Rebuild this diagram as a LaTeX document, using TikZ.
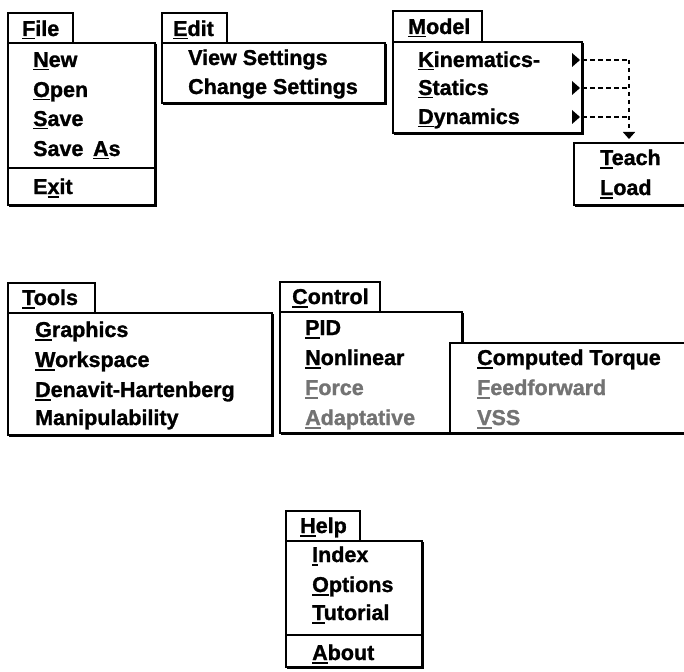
\documentclass[tikz,border=0pt]{standalone}
\usepackage{fontspec}
\setmainfont{Liberation Sans}[BoldFeatures={FakeBold=1.2}]
\usetikzlibrary{arrows.meta}
\newcommand\menufont{\fontsize{21.5pt}{25pt}\selectfont\bfseries}
\newcommand\mnem[1]{\setbox0=\hbox{#1}\rlap{\rule[-3.5pt]{\wd0}{1.7pt}}#1}
\newcommand\menuhead[4]{%
  \fill[white] (#1,#2) rectangle (#3,#4);
  \draw[line width=1.4pt] (#1,#2) rectangle (#3,#4);}
\newcommand\menubox[4]{%
  \fill[white] (#1,#2) rectangle (#3,#4);
  \draw[line width=1.4pt] (#1,#2) rectangle (#3,#4);
  \draw[line width=1.8pt] (#3+1,#2+1) -- (#3+1,#4+1) -- (#1+1,#4+1);}
\begin{document}
\begin{tikzpicture}[x=1pt,y=-1pt,
  itm/.style={anchor=base west,inner sep=0pt,font=\menufont},
  dis/.style={itm,text=black!55},
  conn/.style={line width=1.6pt,dash pattern=on 4.5pt off 3.5pt},
  tri/.style={fill=black}]
\useasboundingbox (0,0) rectangle (684,671);
\clip (0,0) rectangle (684,671);

% ---------- File ----------
\menuhead{8}{13}{73}{43}
\menubox{8}{43}{155}{205}
\draw[line width=1.4pt] (8,168) -- (155,168);
\node[itm] (file) at (22,36) {\mnem{F}ile};
\node[itm] (new) at (33,67) {\mnem{N}ew};
\node[itm] (open) at (33,97) {\mnem{O}pen};
\node[itm] (save) at (33,126) {\mnem{S}ave};
\node[itm] (saveas) at (33,156) {Save\hspace{0.45em}\mnem{A}s};
\node[itm] (exit) at (33,194) {E\mnem{x}it};

% ---------- Edit ----------
\menuhead{162}{13}{227}{43}
\menubox{162}{43}{385}{103}
\node[itm] (edit) at (173,36) {\mnem{E}dit};
\node[itm] (view) at (188,65) {View Settings};
\node[itm] (change) at (188,94) {Change Settings};

% ---------- Model ----------
\menuhead{393}{11}{482}{42}
\menubox{393}{42}{582}{133}
\node[itm] (model) at (408,34) {\mnem{M}odel};
\node[itm] (kin) at (418,67) {\mnem{K}inematics-};
\node[itm] (stat) at (418,95) {\mnem{S}tatics};
\node[itm] (dyn) at (418,124) {\mnem{D}ynamics};
\fill[tri] (572,53) -- (580,60) -- (572,67) -- cycle;
\fill[tri] (572,81) -- (580,88) -- (572,95) -- cycle;
\fill[tri] (572,110) -- (580,117) -- (572,124) -- cycle;
\coordinate (kinend) at (582,60);
\coordinate (statend) at (582,88);
\coordinate (dynend) at (582,117);
\coordinate (corner) at (629,60);
\coordinate (tip) at (629,139);

% ---------- Teach / Load ----------
\menubox{574}{143}{700}{205}
\node[itm] (teach) at (600,165) {\mnem{T}each};
\node[itm] (load) at (600,195) {\mnem{L}oad};

\draw[conn] (kinend) -- (corner);
\draw[conn] (statend) -- (statend -| corner);
\draw[conn] (dynend) -- (dynend -| corner);
\draw[conn,-{Triangle[width=12pt,length=7pt]}] (corner) -- (tip);

% ---------- Tools ----------
\menuhead{8}{283}{95}{313}
\menubox{8}{313}{272}{435}
\node[itm] (tools) at (22,305) {\mnem{T}ools};
\node[itm] (graph) at (35,337) {\mnem{G}raphics};
\node[itm] (work) at (35,367) {\mnem{W}orkspace};
\node[itm] (dh) at (35,397) {\mnem{D}enavit-Hartenberg};
\node[itm] (manip) at (35,425) {Manipulability};

% ---------- Control ----------
\menuhead{280}{282}{380}{312}
\menubox{280}{312}{462}{433}
\node[itm] (control) at (292,304) {\mnem{C}ontrol};
\node[itm] (pid) at (305,335) {\mnem{P}ID};
\node[itm] (nonlin) at (305,365) {\mnem{N}onlinear};
\node[dis] (force) at (305,395) {\mnem{F}orce};
\node[dis] (adapt) at (305,425) {\mnem{A}daptative};
\menubox{450}{343}{700}{433}
\node[itm] (ct) at (477,365) {\mnem{C}omputed Torque};
\node[dis] (ff) at (477,395) {\mnem{F}eedforward};
\node[dis] (vss) at (477,425) {\mnem{V}SS};

% ---------- Help ----------
\menuhead{286}{511}{360}{541}
\menubox{286}{541}{422}{667}
\draw[line width=1.4pt] (286,635) -- (422,635);
\node[itm] (help) at (300,533) {\mnem{H}elp};
\node[itm] (index) at (312,562) {\mnem{I}ndex};
\node[itm] (options) at (312,592) {\mnem{O}ptions};
\node[itm] (tutorial) at (312,620) {\mnem{T}utorial};
\node[itm] (about) at (312,660) {\mnem{A}bout};
\end{tikzpicture}
\end{document}
